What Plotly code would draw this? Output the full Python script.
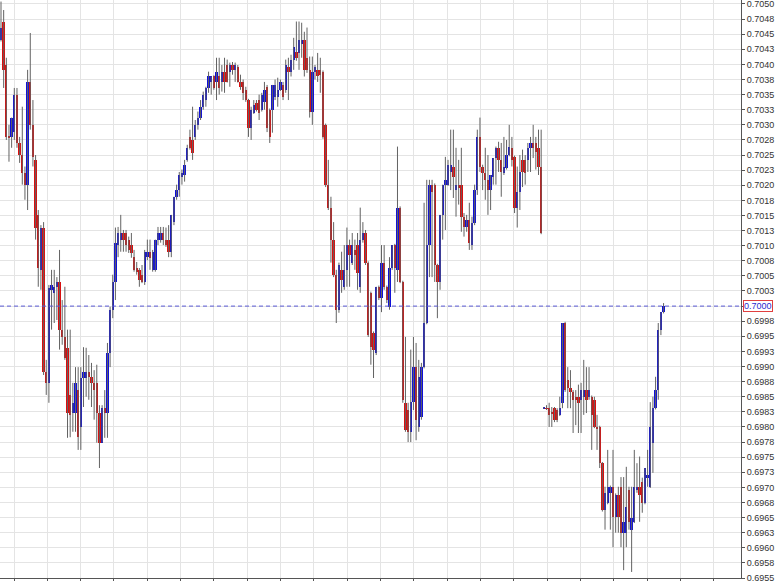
import plotly.graph_objects as go

opens = [
    0.70441, 0.70471, 0.70399, 0.70282, 0.70280, 0.70288, 0.70350, 0.70270, 0.70250, 0.70221,
    0.70201, 0.70371, 0.70300, 0.70242, 0.70151, 0.70060, 0.70130, 0.69891, 0.69873, 0.70027,
    0.70022, 0.70032, 0.70040, 0.69961, 0.69949, 0.69931, 0.69853, 0.69823, 0.69823, 0.69861,
    0.69800, 0.69881, 0.69881, 0.69891, 0.69883, 0.69873, 0.69873, 0.69823, 0.69774, 0.69831,
    0.69823, 0.69923, 0.69994, 0.70040, 0.70101, 0.70110, 0.70121, 0.70121, 0.70110, 0.70101,
    0.70081, 0.70063, 0.70060, 0.70052, 0.70040, 0.70081, 0.70090, 0.70060, 0.70060, 0.70110,
    0.70110, 0.70121, 0.70110, 0.70110, 0.70090, 0.70139, 0.70181, 0.70192, 0.70214, 0.70217,
    0.70242, 0.70280, 0.70275, 0.70280, 0.70300, 0.70312, 0.70330, 0.70341, 0.70361, 0.70371,
    0.70380, 0.70371, 0.70380, 0.70371, 0.70388, 0.70399, 0.70388, 0.70399, 0.70391, 0.70396,
    0.70371, 0.70371, 0.70358, 0.70341, 0.70295, 0.70320, 0.70336, 0.70341, 0.70325, 0.70338,
    0.70363, 0.70325, 0.70325, 0.70346, 0.70346, 0.70358, 0.70366, 0.70358, 0.70396, 0.70388,
    0.70408, 0.70421, 0.70419, 0.70433, 0.70441, 0.70411, 0.70391, 0.70322, 0.70388, 0.70391,
    0.70391, 0.70388, 0.70300, 0.70201, 0.70163, 0.70110, 0.70052, 0.69994, 0.70060, 0.70032,
    0.70060, 0.70101, 0.70072, 0.70093, 0.70101, 0.70032, 0.70110, 0.70121, 0.70072, 0.70022,
    0.69956, 0.69923, 0.70032, 0.70014, 0.70072, 0.70032, 0.69999, 0.70063, 0.70101, 0.70060,
    0.70163, 0.70040, 0.69840, 0.69828, 0.69792, 0.69841, 0.69899, 0.69800, 0.69817, 0.69899,
    0.69972, 0.70101, 0.70201, 0.70201, 0.70068, 0.70040, 0.70151, 0.70201, 0.70201, 0.70222,
    0.70231, 0.70192, 0.70201, 0.70201, 0.70148, 0.70131, 0.70143, 0.70101, 0.70138, 0.70192,
    0.70280, 0.70231, 0.70221, 0.70209, 0.70192, 0.70214, 0.70245, 0.70262, 0.70242, 0.70221,
    0.70229, 0.70250, 0.70262, 0.70247, 0.70163, 0.70189, 0.70242, 0.70242, 0.70242, 0.70262,
    0.70270, 0.70270, 0.70262, 0.70231, 0.69831, 0.69831, 0.69831, 0.69825, 0.69831, 0.69828,
    0.69820, 0.69840, 0.69972, 0.69878, 0.69865, 0.69858, 0.69850, 0.69850, 0.69845, 0.69850,
    0.69861, 0.69850, 0.69850, 0.69845, 0.69800, 0.69800, 0.69740, 0.69663, 0.69674, 0.69691,
    0.69701, 0.69651, 0.69688, 0.69701, 0.69625, 0.69625, 0.69696, 0.69630, 0.69643, 0.69696,
    0.69701, 0.69709, 0.69674, 0.69716, 0.69701, 0.69774, 0.69831, 0.69861, 0.69961, 0.69990,
]

highs = [
    0.70504, 0.70490, 0.70411, 0.70300, 0.70312, 0.70361, 0.70361, 0.70280, 0.70330, 0.70231,
    0.70391, 0.70452, 0.70341, 0.70250, 0.70159, 0.70134, 0.70139, 0.69911, 0.70035, 0.70060,
    0.70060, 0.70048, 0.70093, 0.70010, 0.70032, 0.69961, 0.69961, 0.69873, 0.69899, 0.69899,
    0.69899, 0.69932, 0.69931, 0.69919, 0.69906, 0.69894, 0.69903, 0.69836, 0.69836, 0.69861,
    0.69939, 0.69999, 0.70052, 0.70130, 0.70131, 0.70151, 0.70126, 0.70126, 0.70115, 0.70121,
    0.70093, 0.70073, 0.70063, 0.70068, 0.70093, 0.70110, 0.70110, 0.70093, 0.70110, 0.70131,
    0.70131, 0.70131, 0.70130, 0.70134, 0.70151, 0.70181, 0.70201, 0.70222, 0.70226, 0.70242,
    0.70267, 0.70292, 0.70330, 0.70308, 0.70322, 0.70341, 0.70355, 0.70363, 0.70388, 0.70380,
    0.70382, 0.70411, 0.70411, 0.70399, 0.70411, 0.70408, 0.70403, 0.70404, 0.70403, 0.70399,
    0.70383, 0.70375, 0.70363, 0.70343, 0.70330, 0.70341, 0.70341, 0.70350, 0.70353, 0.70371,
    0.70366, 0.70327, 0.70366, 0.70375, 0.70378, 0.70375, 0.70371, 0.70408, 0.70411, 0.70416,
    0.70444, 0.70471, 0.70471, 0.70469, 0.70454, 0.70461, 0.70413, 0.70413, 0.70399, 0.70419,
    0.70411, 0.70390, 0.70302, 0.70242, 0.70181, 0.70139, 0.70060, 0.70072, 0.70090, 0.70101,
    0.70130, 0.70110, 0.70121, 0.70110, 0.70121, 0.70163, 0.70139, 0.70126, 0.70074, 0.70024,
    0.69958, 0.70032, 0.70034, 0.70101, 0.70101, 0.70034, 0.70081, 0.70101, 0.70103, 0.70264,
    0.70165, 0.70042, 0.69949, 0.69840, 0.69928, 0.69949, 0.69939, 0.69911, 0.69906, 0.70171,
    0.70209, 0.70209, 0.70209, 0.70203, 0.70070, 0.70151, 0.70201, 0.70247, 0.70242, 0.70292,
    0.70292, 0.70262, 0.70242, 0.70262, 0.70154, 0.70151, 0.70171, 0.70148, 0.70201, 0.70292,
    0.70312, 0.70234, 0.70262, 0.70250, 0.70217, 0.70245, 0.70264, 0.70272, 0.70270, 0.70280,
    0.70275, 0.70300, 0.70280, 0.70249, 0.70231, 0.70250, 0.70259, 0.70250, 0.70270, 0.70280,
    0.70300, 0.70280, 0.70292, 0.70292, 0.69833, 0.69836, 0.69840, 0.69833, 0.69833, 0.69831,
    0.69850, 0.69972, 0.69974, 0.69899, 0.69894, 0.69861, 0.69861, 0.69870, 0.69873, 0.69911,
    0.69899, 0.69899, 0.69852, 0.69850, 0.69820, 0.69802, 0.69742, 0.69701, 0.69762, 0.69703,
    0.69762, 0.69690, 0.69701, 0.69717, 0.69717, 0.69734, 0.69701, 0.69701, 0.69762, 0.69740,
    0.69751, 0.69716, 0.69732, 0.69762, 0.69841, 0.69850, 0.69883, 0.69972, 0.69990, 0.70005,
]

lows = [
    0.70438, 0.70361, 0.70275, 0.70239, 0.70262, 0.70275, 0.70262, 0.70237, 0.70201, 0.70176,
    0.70159, 0.70292, 0.70231, 0.70110, 0.70032, 0.70027, 0.69886, 0.69853, 0.69840, 0.69961,
    0.69972, 0.69977, 0.69928, 0.69936, 0.69911, 0.69782, 0.69783, 0.69792, 0.69792, 0.69762,
    0.69762, 0.69833, 0.69850, 0.69845, 0.69833, 0.69812, 0.69774, 0.69732, 0.69774, 0.69782,
    0.69782, 0.69899, 0.69980, 0.70010, 0.70081, 0.70090, 0.70090, 0.70090, 0.70088, 0.70080,
    0.70057, 0.70052, 0.70032, 0.70038, 0.70035, 0.70076, 0.70060, 0.70057, 0.70057, 0.70101,
    0.70105, 0.70101, 0.70098, 0.70081, 0.70081, 0.70134, 0.70176, 0.70181, 0.70201, 0.70206,
    0.70239, 0.70259, 0.70242, 0.70275, 0.70292, 0.70308, 0.70325, 0.70330, 0.70353, 0.70350,
    0.70358, 0.70341, 0.70350, 0.70355, 0.70353, 0.70370, 0.70363, 0.70383, 0.70371, 0.70370,
    0.70358, 0.70341, 0.70338, 0.70280, 0.70275, 0.70318, 0.70322, 0.70308, 0.70322, 0.70325,
    0.70288, 0.70270, 0.70287, 0.70341, 0.70330, 0.70356, 0.70341, 0.70353, 0.70341, 0.70380,
    0.70391, 0.70406, 0.70391, 0.70411, 0.70380, 0.70386, 0.70312, 0.70300, 0.70375, 0.70371,
    0.70353, 0.70277, 0.70197, 0.70159, 0.70072, 0.70048, 0.69972, 0.69989, 0.70022, 0.70027,
    0.70032, 0.70032, 0.70068, 0.70060, 0.70027, 0.70022, 0.70105, 0.70068, 0.69949, 0.69903,
    0.69881, 0.69919, 0.70010, 0.69990, 0.70027, 0.70005, 0.69994, 0.70060, 0.70022, 0.70040,
    0.70038, 0.69840, 0.69792, 0.69775, 0.69775, 0.69828, 0.69778, 0.69792, 0.69812, 0.69897,
    0.69970, 0.70048, 0.70048, 0.70040, 0.69980, 0.70027, 0.70110, 0.70126, 0.70199, 0.70192,
    0.70179, 0.70148, 0.70168, 0.70123, 0.70115, 0.70123, 0.70093, 0.70093, 0.70134, 0.70184,
    0.70222, 0.70192, 0.70176, 0.70151, 0.70159, 0.70201, 0.70201, 0.70222, 0.70181, 0.70217,
    0.70226, 0.70248, 0.70231, 0.70154, 0.70130, 0.70159, 0.70197, 0.70201, 0.70222, 0.70222,
    0.70245, 0.70226, 0.70217, 0.70119, 0.69830, 0.69828, 0.69800, 0.69800, 0.69808, 0.69808,
    0.69818, 0.69831, 0.69858, 0.69831, 0.69831, 0.69790, 0.69803, 0.69790, 0.69790, 0.69820,
    0.69823, 0.69845, 0.69762, 0.69798, 0.69762, 0.69732, 0.69660, 0.69630, 0.69672, 0.69630,
    0.69601, 0.69625, 0.69625, 0.69601, 0.69563, 0.69601, 0.69630, 0.69560, 0.69641, 0.69691,
    0.69643, 0.69658, 0.69672, 0.69701, 0.69699, 0.69724, 0.69829, 0.69845, 0.69952, 0.69988,
]

closes = [
    0.70461, 0.70391, 0.70280, 0.70278, 0.70312, 0.70350, 0.70270, 0.70250, 0.70221, 0.70201,
    0.70371, 0.70300, 0.70247, 0.70130, 0.70063, 0.70130, 0.69891, 0.69873, 0.70030, 0.70035,
    0.70032, 0.70040, 0.69961, 0.69949, 0.69914, 0.69823, 0.69820, 0.69840, 0.69873, 0.69783,
    0.69881, 0.69891, 0.69891, 0.69883, 0.69873, 0.69861, 0.69823, 0.69774, 0.69831, 0.69823,
    0.69923, 0.69994, 0.70040, 0.70105, 0.70121, 0.70121, 0.70110, 0.70101, 0.70093, 0.70088,
    0.70060, 0.70057, 0.70043, 0.70040, 0.70090, 0.70090, 0.70080, 0.70090, 0.70110, 0.70121,
    0.70121, 0.70110, 0.70101, 0.70090, 0.70151, 0.70181, 0.70192, 0.70217, 0.70221, 0.70234,
    0.70262, 0.70262, 0.70254, 0.70300, 0.70312, 0.70330, 0.70350, 0.70361, 0.70380, 0.70380,
    0.70361, 0.70388, 0.70361, 0.70388, 0.70371, 0.70371, 0.70399, 0.70391, 0.70399, 0.70371,
    0.70363, 0.70353, 0.70341, 0.70295, 0.70325, 0.70333, 0.70325, 0.70320, 0.70350, 0.70358,
    0.70295, 0.70280, 0.70366, 0.70366, 0.70358, 0.70371, 0.70346, 0.70399, 0.70388, 0.70408,
    0.70429, 0.70411, 0.70441, 0.70441, 0.70391, 0.70391, 0.70322, 0.70388, 0.70396, 0.70380,
    0.70383, 0.70280, 0.70201, 0.70163, 0.70110, 0.70052, 0.69994, 0.70068, 0.70043, 0.70060,
    0.70101, 0.70085, 0.70101, 0.70085, 0.70055, 0.70110, 0.70121, 0.70072, 0.69952, 0.69932,
    0.69928, 0.70032, 0.70014, 0.70072, 0.70032, 0.70010, 0.70063, 0.70101, 0.70063, 0.70163,
    0.70040, 0.69845, 0.69795, 0.69792, 0.69841, 0.69899, 0.69812, 0.69883, 0.69899, 0.69972,
    0.70101, 0.70201, 0.70189, 0.70068, 0.70040, 0.70151, 0.70201, 0.70209, 0.70234, 0.70234,
    0.70214, 0.70201, 0.70196, 0.70148, 0.70131, 0.70143, 0.70105, 0.70138, 0.70192, 0.70280,
    0.70231, 0.70221, 0.70209, 0.70192, 0.70217, 0.70245, 0.70262, 0.70242, 0.70222, 0.70231,
    0.70250, 0.70264, 0.70242, 0.70163, 0.70189, 0.70222, 0.70222, 0.70221, 0.70262, 0.70270,
    0.70262, 0.70255, 0.70231, 0.70121, 0.69832, 0.69830, 0.69820, 0.69823, 0.69812, 0.69812,
    0.69831, 0.69972, 0.69861, 0.69865, 0.69858, 0.69845, 0.69845, 0.69840, 0.69861, 0.69861,
    0.69845, 0.69861, 0.69820, 0.69800, 0.69798, 0.69740, 0.69663, 0.69691, 0.69701, 0.69701,
    0.69651, 0.69688, 0.69651, 0.69625, 0.69643, 0.69668, 0.69643, 0.69649, 0.69701, 0.69701,
    0.69688, 0.69674, 0.69732, 0.69720, 0.69800, 0.69831, 0.69861, 0.69961, 0.69990, 0.70000,
]

tick_values = [
    0.69550, 0.69575, 0.69600, 0.69625, 0.69650, 0.69675, 0.69700, 0.69725,
    0.69750, 0.69775, 0.69800, 0.69825, 0.69850, 0.69875, 0.69900, 0.69925,
    0.69950, 0.69975, 0.70000, 0.70025, 0.70050, 0.70075, 0.70100, 0.70125,
    0.70150, 0.70175, 0.70200, 0.70225, 0.70250, 0.70275, 0.70300, 0.70325,
    0.70350, 0.70375, 0.70400, 0.70425, 0.70450, 0.70475, 0.70500,
]
tick_labels = [
    "0.6955", "0.6958", "0.6960", "0.6963", "0.6965", "0.6968", "0.6970", "0.6973",
    "0.6975", "0.6978", "0.6980", "0.6983", "0.6985", "0.6988", "0.6990", "0.6993",
    "0.6995", "0.6998", "", "0.7003", "0.7005", "0.7008", "0.7010", "0.7013",
    "0.7015", "0.7018", "0.7020", "0.7023", "0.7025", "0.7028", "0.7030", "0.7033",
    "0.7035", "0.7038", "0.7040", "0.7043", "0.7045", "0.7048", "0.7050",
]
marker_level = 0.7000
marker_label = "0.7000"

UP = "#1010d8"
DOWN = "#dc0e0e"
WICK = "#626262"

n = len(closes)
idx = list(range(n))
body_base = [min(o, c) for o, c in zip(opens, closes)]
body_h = [max(abs(c - o), 0.000012) for o, c in zip(opens, closes)]
body_col = [UP if c >= o else DOWN for o, c in zip(opens, closes)]

wick_x, wick_y = [], []
for i, (h, l) in enumerate(zip(highs, lows)):
    wick_x += [i, i, None]
    wick_y += [l, h, None]

fig = go.Figure()
fig.add_trace(go.Scatter(x=wick_x, y=wick_y, mode="lines",
                         line=dict(color=WICK, width=1), hoverinfo="skip"))
fig.add_trace(go.Bar(x=idx, y=body_h, base=body_base, width=0.88,
                     marker=dict(color=body_col, line=dict(width=0))))

fig.add_shape(type="line", xref="paper", x0=0, x1=1, yref="y",
              y0=marker_level, y1=marker_level,
              line=dict(color="#5a5ad6", width=1, dash="4px,3px"))
fig.add_annotation(xref="paper", x=1, xanchor="left", xshift=2,
                   yref="y", y=marker_level, text=marker_label, showarrow=False,
                   font=dict(family="Liberation Sans, Arial", size=9, color="#2a2ad0"),
                   bordercolor="#e04040", borderwidth=1, borderpad=0, bgcolor="white")

fig.update_layout(
    width=775, height=581,
    margin=dict(l=0, r=34, t=0, b=3),
    paper_bgcolor="white", plot_bgcolor="white",
    showlegend=False, bargap=0,
    xaxis=dict(range=[-0.376, 278.1], tickmode="linear", tick0=4.886, dtick=12.526,
               showticklabels=False, ticks="outside", ticklen=4, tickcolor="#555",
               showgrid=True, gridcolor="#e4e4e4", gridwidth=1,
               showline=True, linecolor="#555", linewidth=1, zeroline=False),
    yaxis=dict(side="right", range=[0.6955, 0.705066], tickmode="array",
               tickvals=tick_values, ticktext=tick_labels,
               showgrid=True, gridcolor="#e4e4e4", gridwidth=1,
               showline=True, linecolor="#555", linewidth=1,
               ticks="outside", ticklen=3, tickcolor="#555",
               ticklabeloverflow="allow",
               tickfont=dict(family="Liberation Sans, Arial", size=9, color="#333"),
               automargin=False, zeroline=False),
)

fig.write_html("out.html", config={"displayModeBar": False},
               post_script="document.body.style.margin='0px';document.body.style.overflow='hidden';")
